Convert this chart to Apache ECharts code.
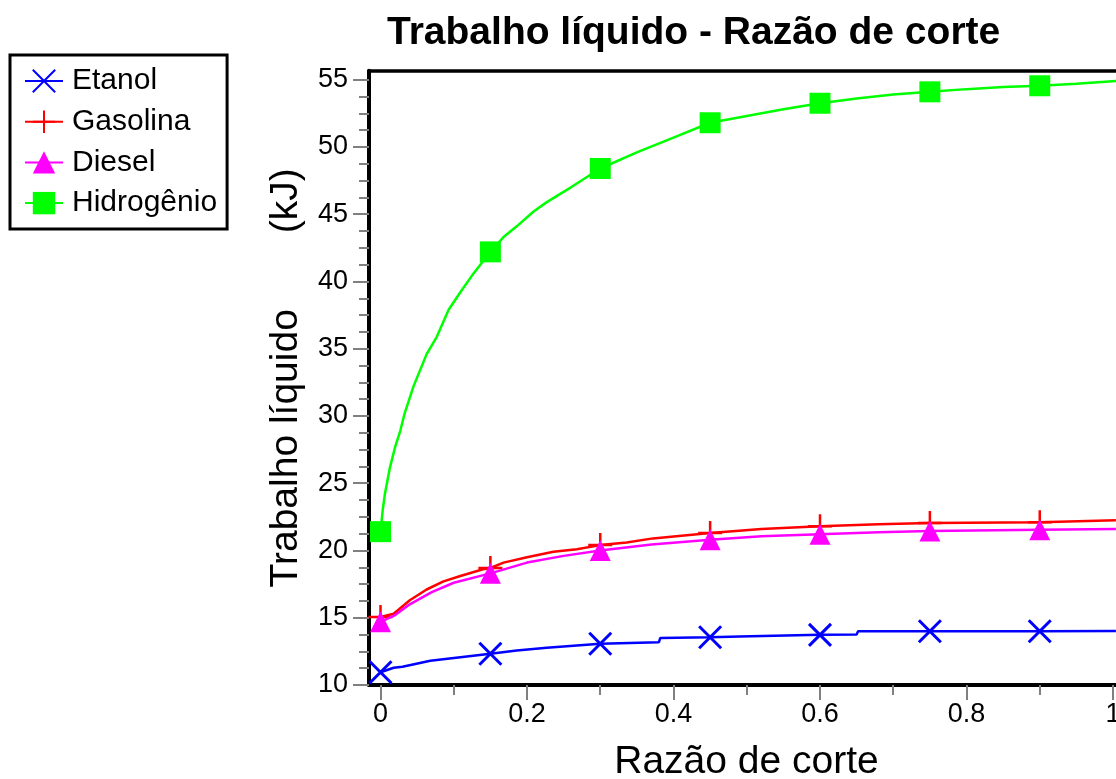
<!DOCTYPE html>
<html>
<head>
<meta charset="utf-8">
<script src="https://cdn.jsdelivr.net/npm/echarts@6/dist/echarts.min.js"></script>
<style>
  html, body { margin: 0; padding: 0; background: #ffffff; }
  #chart { width: 1116px; height: 779px; }
</style>
</head>
<body>
<div id="chart"></div>
<script>
// Net work (kJ) versus cut-off ratio for four fuels
const etanolX = [0, 0.018, 0.03, 0.068, 0.109, 0.15, 0.186, 0.227, 0.268, 0.3, 0.38, 0.382, 0.45, 0.49, 0.492, 0.6, 0.65, 0.652, 0.75, 0.9, 1.004];
const etanolY = [10.95, 11.28, 11.35, 11.8, 12.07, 12.32, 12.57, 12.77, 12.94, 13.07, 13.18, 13.5, 13.55, 13.6, 13.72, 13.73, 13.75, 14.0, 14.0, 14.0, 14.02];

const gasolinaX = [0, 0.018, 0.04, 0.063, 0.086, 0.109, 0.14, 0.15, 0.168, 0.2, 0.236, 0.268, 0.3, 0.336, 0.372, 0.45, 0.52, 0.6, 0.68, 0.75, 0.9, 1.004];
const gasolinaY = [15.05, 15.3, 16.3, 17.1, 17.7, 18.1, 18.6, 18.7, 19.1, 19.5, 19.9, 20.1, 20.4, 20.6, 20.9, 21.3, 21.6, 21.8, 21.95, 22.05, 22.1, 22.25];

const dieselX = [0, 0.02, 0.04, 0.07, 0.1, 0.15, 0.2, 0.25, 0.3, 0.37, 0.45, 0.52, 0.6, 0.68, 0.75, 0.9, 1.004];
const dieselY = [14.7, 15.2, 16.0, 16.9, 17.6, 18.3, 19.1, 19.6, 20.0, 20.45, 20.8, 21.05, 21.2, 21.35, 21.45, 21.55, 21.6];

const hidrogenioX = [0, 0.003, 0.006, 0.013, 0.02, 0.027, 0.033, 0.045, 0.063, 0.077, 0.093, 0.109, 0.127, 0.15, 0.168, 0.186, 0.209, 0.227, 0.26, 0.3, 0.35, 0.4, 0.45, 0.5, 0.55, 0.6, 0.65, 0.7, 0.75, 0.8, 0.85, 0.9, 0.95, 1.004];
const hidrogenioY = [21.4, 23.0, 24.2, 26.2, 27.7, 28.9, 30.2, 32.2, 34.6, 35.9, 37.9, 39.2, 40.6, 42.2, 43.3, 44.1, 45.2, 45.9, 47.0, 48.4, 49.6, 50.7, 51.8, 52.3, 52.8, 53.25, 53.6, 53.9, 54.1, 54.3, 54.45, 54.55, 54.7, 54.9];

// cut-off ratios where the markers sit
const markerX = [0, 0.15, 0.3, 0.45, 0.6, 0.75, 0.9];

const xTicks = [0, 0.2, 0.4, 0.6, 0.8, 1];
const xMinorTicks = [0.1, 0.3, 0.5, 0.7, 0.9];
const yTicks = [10, 15, 20, 25, 30, 35, 40, 45, 50, 55];

// three minor ticks between neighbouring major y ticks
const yMinorTicks = [];
for (let i = 0; i < yTicks.length - 1; i++) {
  const step = (yTicks[i + 1] - yTicks[i]) / 4;
  for (let k = 1; k < 4; k++) yMinorTicks.push(yTicks[i] + k * step);
}

const X_MIN = -0.0157, X_MAX = 1.0041;
const Y_MIN = 10, Y_MAX = 55.67;

const FONT = '"Liberation Sans", Arial, sans-serif';

function buildData(xs, ys) {
  return xs.map(function (x, i) {
    const isMarker = markerX.some(function (m) { return Math.abs(m - x) < 1e-9; });
    return isMarker ? { value: [x, ys[i]] } : { value: [x, ys[i]], symbol: 'none' };
  });
}

const crossPath = 'path://M0,0L10,10M10,0L0,10';
const plusPath = 'path://M5,0L5,10M0,5L10,5';

const chart = echarts.init(document.getElementById('chart'), null, { renderer: 'canvas' });

const axisTickStyle = { color: '#808080', width: 2 };
const plotRect = { left: 369, right: 0, top: 70.7, bottom: 94, containLabel: false, outerBoundsMode: 'none' };

chart.setOption({
  animation: false,
  backgroundColor: '#ffffff',
  title: {
    text: 'Trabalho líquido - Razão de corte',
    left: 382,
    top: 9,
    textStyle: { fontFamily: FONT, fontSize: 39, fontWeight: 'bold', color: '#000000' }
  },
  legend: {
    orient: 'vertical',
    left: 10,
    top: 55,
    padding: [11, 10, 11, 14],
    itemWidth: 38,
    itemHeight: 28,
    itemGap: 10.7,
    borderColor: '#000000',
    borderWidth: 3,
    backgroundColor: '#ffffff',
    textStyle: { fontFamily: FONT, fontSize: 30, lineHeight: 28, color: '#000000', padding: [0, 0, 0, 4] },
    data: ['Etanol', 'Gasolina', 'Diesel', 'Hidrogênio']
  },
  // grid 0 holds the curves; grid 1 shares its rectangle and only carries the minor ticks
  grid: [Object.assign({}, plotRect), Object.assign({}, plotRect)],
  xAxis: [
    {
      gridIndex: 0,
      type: 'value',
      min: X_MIN,
      max: X_MAX,
      position: 'bottom',
      name: 'Razão de corte',
      nameLocation: 'middle',
      nameGap: 58,
      nameTextStyle: { fontFamily: FONT, fontSize: 39, color: '#000000', padding: [0, 0, 0, 8] },
      axisLine: { show: true, onZero: false, lineStyle: { color: '#000000', width: 4 } },
      axisTick: { show: true, customValues: xTicks, length: 15, lineStyle: axisTickStyle },
      axisLabel: {
        customValues: xTicks, margin: 16,
        fontFamily: FONT, fontSize: 27, color: '#000000',
        formatter: function (v) { return String(v); }
      },
      splitLine: { show: false }
    },
    {
      // top frame line of the plot
      gridIndex: 0,
      type: 'value',
      min: X_MIN,
      max: X_MAX,
      position: 'top',
      axisLine: { show: true, lineStyle: { color: '#000000', width: 3.5 } },
      axisTick: { show: false },
      axisLabel: { show: false },
      splitLine: { show: false }
    },
    {
      gridIndex: 1,
      type: 'value',
      min: X_MIN,
      max: X_MAX,
      position: 'bottom',
      axisLine: { show: false, onZero: false },
      axisTick: { show: true, customValues: xMinorTicks, length: 10, lineStyle: axisTickStyle },
      axisLabel: { show: false },
      splitLine: { show: false }
    }
  ],
  yAxis: [
    {
      gridIndex: 0,
      type: 'value',
      min: Y_MIN,
      max: Y_MAX,
      position: 'left',
      name: 'Trabalho líquido       (kJ)',
      nameLocation: 'middle',
      nameGap: 63,
      nameTextStyle: { fontFamily: FONT, fontSize: 39, color: '#000000' },
      axisLine: { show: true, onZero: false, lineStyle: { color: '#000000', width: 4 } },
      axisTick: { show: true, customValues: yTicks, length: 16, lineStyle: axisTickStyle },
      axisLabel: {
        customValues: yTicks, margin: 21,
        fontFamily: FONT, fontSize: 27, color: '#000000'
      },
      splitLine: { show: false }
    },
    {
      gridIndex: 1,
      type: 'value',
      min: Y_MIN,
      max: Y_MAX,
      position: 'left',
      axisLine: { show: false, onZero: false },
      axisTick: { show: true, customValues: yMinorTicks, length: 10, lineStyle: axisTickStyle },
      axisLabel: { show: false },
      splitLine: { show: false }
    }
  ],
  series: [
    {
      name: 'Etanol',
      type: 'line',
      data: buildData(etanolX, etanolY),
      symbol: crossPath,
      symbolSize: 22,
      color: '#0000ff',
      lineStyle: { color: '#0000ff', width: 2.5 },
      itemStyle: { color: '#0000ff', borderColor: '#0000ff', borderWidth: 3 },
      z: 3
    },
    {
      name: 'Gasolina',
      type: 'line',
      data: buildData(gasolinaX, gasolinaY),
      symbol: plusPath,
      symbolSize: 24,
      color: '#ff0000',
      lineStyle: { color: '#ff0000', width: 2.5 },
      itemStyle: { color: '#ff0000', borderColor: '#ff0000', borderWidth: 2.5 },
      z: 3
    },
    {
      name: 'Diesel',
      type: 'line',
      data: buildData(dieselX, dieselY),
      symbol: 'triangle',
      symbolSize: 21,
      color: '#ff00ff',
      lineStyle: { color: '#ff00ff', width: 2.5 },
      itemStyle: { color: '#ff00ff', borderWidth: 0 },
      z: 4
    },
    {
      name: 'Hidrogênio',
      type: 'line',
      data: buildData(hidrogenioX, hidrogenioY),
      symbol: 'rect',
      symbolSize: 21,
      color: '#00ff00',
      lineStyle: { color: '#00ff00', width: 2.5 },
      itemStyle: { color: '#00ff00', borderWidth: 0 },
      z: 5
    }
  ]
});
</script>
</body>
</html>
